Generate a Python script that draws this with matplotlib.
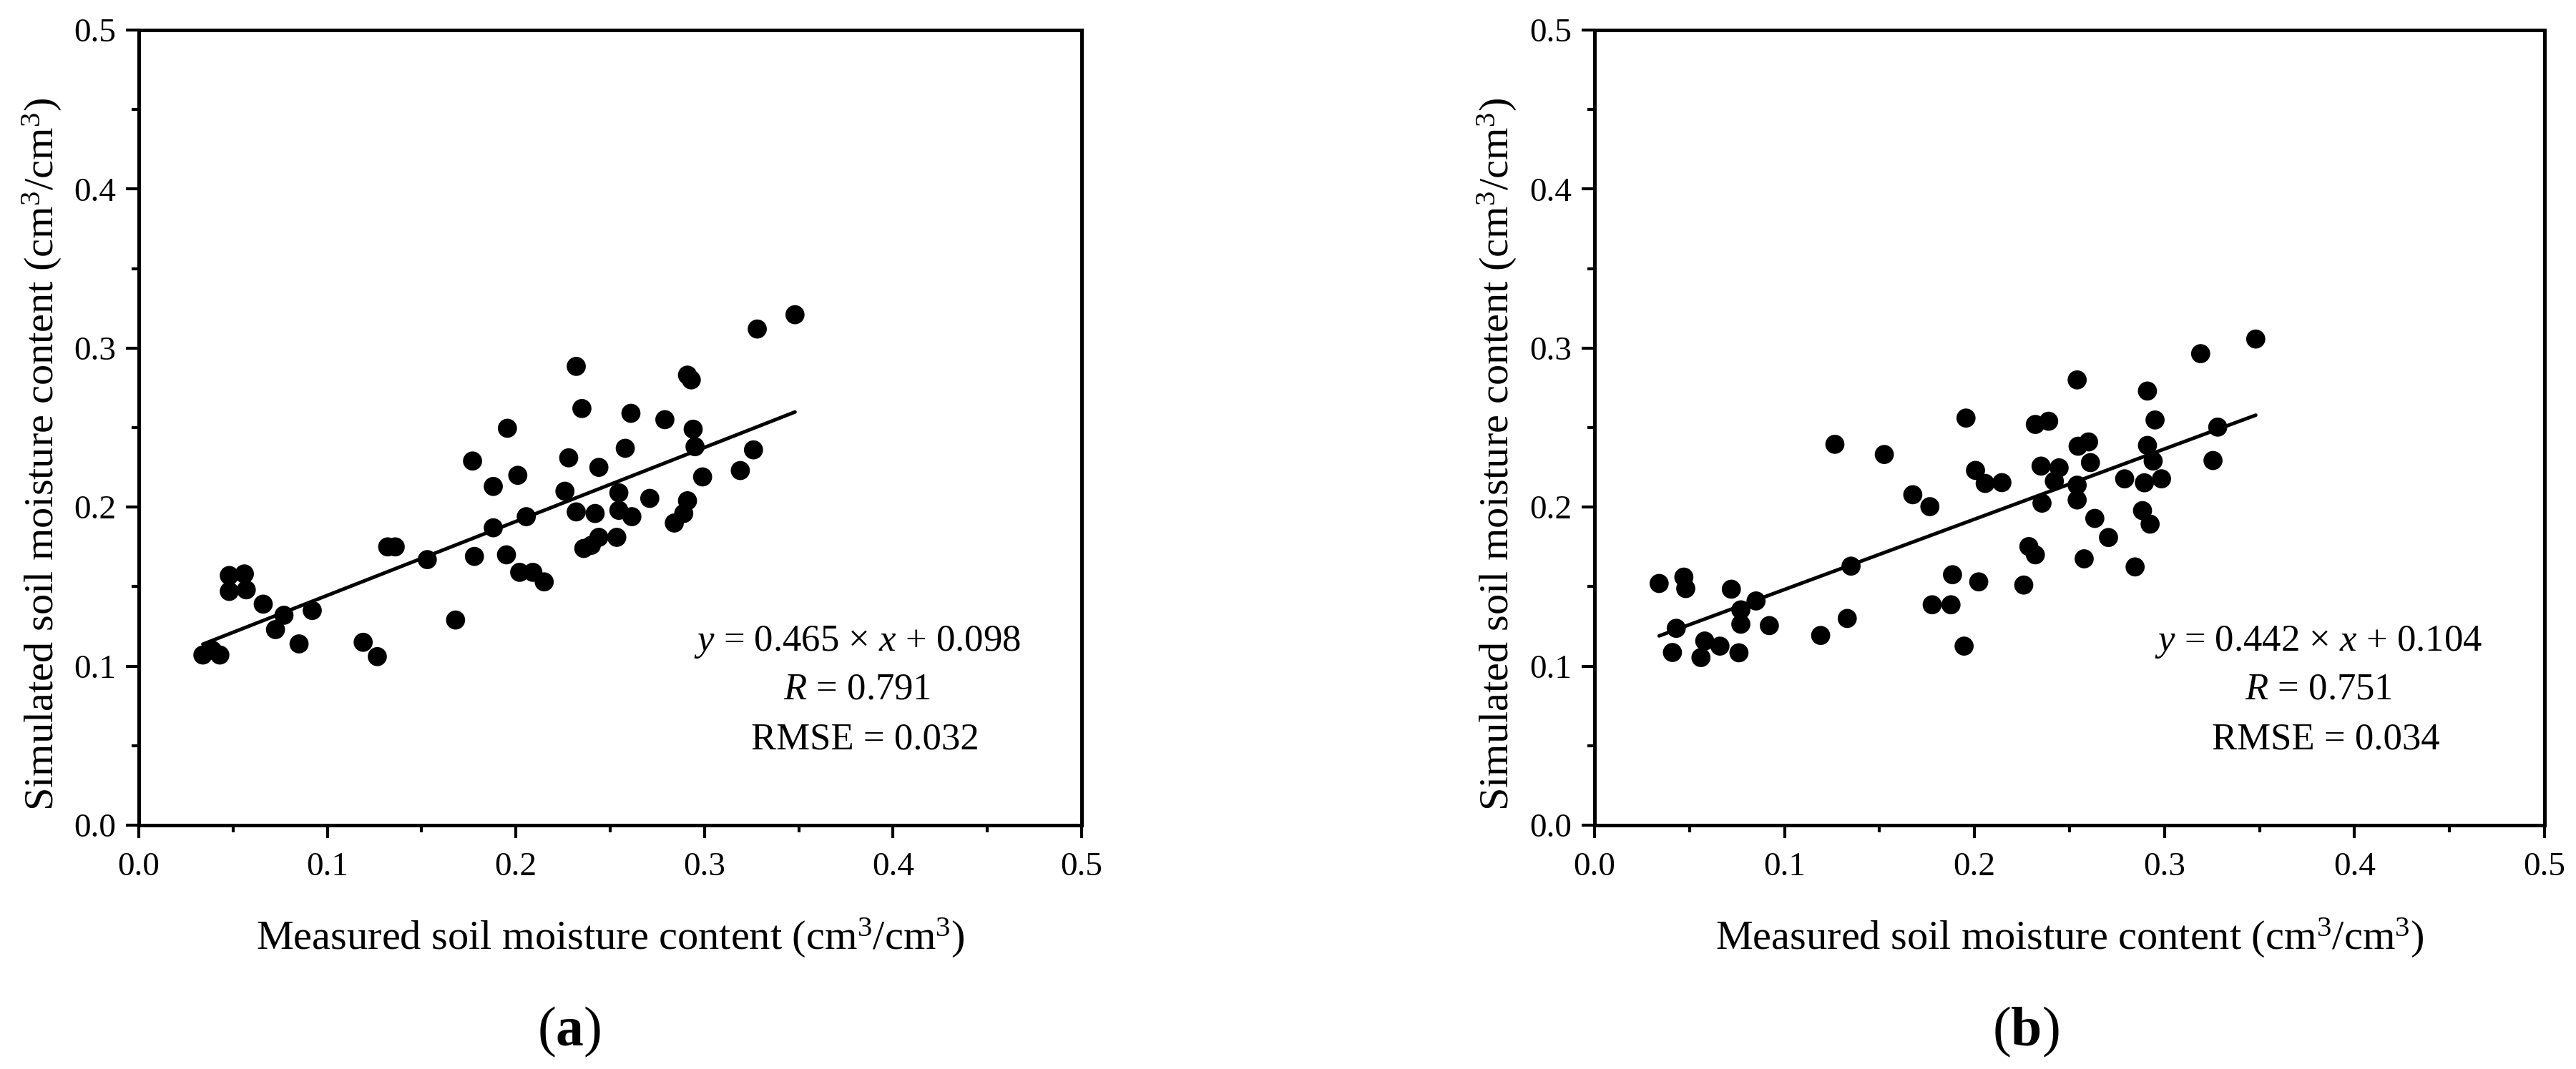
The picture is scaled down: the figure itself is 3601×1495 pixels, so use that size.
import matplotlib
matplotlib.use("Agg")
import matplotlib.pyplot as plt
import numpy as np
from matplotlib.ticker import MultipleLocator, FormatStrFormatter

plt.rcParams['font.family'] = ['Liberation Serif', 'DejaVu Serif']
plt.rcParams['mathtext.fontset'] = 'custom'
plt.rcParams['mathtext.rm'] = 'Liberation Serif'
plt.rcParams['mathtext.it'] = 'Liberation Serif:italic'
plt.rcParams['mathtext.bf'] = 'Liberation Serif:bold'

# ---------------- data ----------------
meas_a = [0.034, 0.039, 0.043, 0.048, 0.056, 0.048, 0.057, 0.066, 0.077, 0.0725,
          0.092, 0.085, 0.119, 0.1265, 0.132, 0.136, 0.153, 0.168, 0.177, 0.188,
          0.188, 0.178, 0.348, 0.328, 0.232, 0.291, 0.293, 0.235, 0.261, 0.279,
          0.294, 0.1955, 0.295, 0.258, 0.326, 0.228, 0.244, 0.201, 0.319, 0.299,
          0.226, 0.2546, 0.2546, 0.2615, 0.271, 0.291, 0.289, 0.284, 0.232, 0.242,
          0.2055, 0.195, 0.2535, 0.244, 0.236, 0.240, 0.202, 0.209, 0.215]
sim_a = [0.107, 0.110, 0.107, 0.157, 0.158, 0.147, 0.148, 0.139, 0.132, 0.123,
         0.135, 0.114, 0.115, 0.106, 0.175, 0.175, 0.167, 0.129, 0.229, 0.213,
         0.187, 0.169, 0.321, 0.312, 0.2885, 0.283, 0.280, 0.262, 0.259, 0.255,
         0.249, 0.2496, 0.238, 0.237, 0.236, 0.231, 0.225, 0.220, 0.223, 0.219,
         0.210, 0.209, 0.198, 0.194, 0.2055, 0.204, 0.196, 0.190, 0.197, 0.196,
         0.194, 0.170, 0.181, 0.181, 0.174, 0.176, 0.159, 0.159, 0.153]

meas_b = [0.1265, 0.1525, 0.1675, 0.1765, 0.135, 0.133, 0.119, 0.072, 0.085, 0.077,
          0.077, 0.092, 0.034, 0.047, 0.048, 0.043, 0.041, 0.058, 0.066, 0.056,
          0.076, 0.348, 0.319, 0.254, 0.291, 0.1955, 0.232, 0.239, 0.295, 0.328,
          0.260, 0.2545, 0.291, 0.294, 0.261, 0.3255, 0.2005, 0.2056, 0.2144, 0.235,
          0.2445, 0.242, 0.254, 0.279, 0.2894, 0.2984, 0.2355, 0.254, 0.2633, 0.2884,
          0.2924, 0.2705, 0.2286, 0.232, 0.2577, 0.2845, 0.1884, 0.2022, 0.2259, 0.1777,
          0.1876, 0.1945]
sim_b = [0.2395, 0.2331, 0.2078, 0.2003, 0.1629, 0.130, 0.1193, 0.1484, 0.141, 0.1354,
         0.1264, 0.1255, 0.152, 0.156, 0.1488, 0.1238, 0.1086, 0.1158, 0.1126, 0.1054,
         0.1084, 0.3057, 0.2965, 0.280, 0.273, 0.256, 0.252, 0.254, 0.2548, 0.2503,
         0.241, 0.2383, 0.2388, 0.229, 0.228, 0.2293, 0.2231, 0.2149, 0.2154, 0.2258,
         0.2247, 0.2163, 0.2138, 0.2178, 0.2153, 0.2178, 0.2025, 0.2045, 0.1929, 0.1978,
         0.1893, 0.1809, 0.1752, 0.170, 0.1675, 0.1624, 0.1575, 0.153, 0.151, 0.1386,
         0.1386, 0.1126]

fit_a = (0.465, 0.098)
fit_b = (0.442, 0.104)
stats_a = ("0.465", "0.098", "0.791", "0.032")
stats_b = ("0.442", "0.104", "0.751", "0.034")
panel_labels = ["a", "b"]
tick_vals = [0.0, 0.1, 0.2, 0.3, 0.4, 0.5]

xlabel = 'Measured soil moisture content (cm$^3$/cm$^3$)'
ylabel = 'Simulated soil moisture content (cm$^3$/cm$^3$)'

# ---------------- figure ----------------
fig = plt.figure(figsize=(36.01, 14.95), dpi=100)
ax_a = fig.add_axes([0.05387, 0.22809, 0.36601, 0.74381])
ax_b = fig.add_axes([0.6190, 0.22809, 0.36879, 0.74381])

LW = 3.6
TICK_FS = 34
LABEL_FS = 42
ANN_FS = 38


def style(ax):
    ax.set_xlim(0, 0.5)
    ax.set_ylim(0, 0.5)
    ax.set_xticks(tick_vals)
    ax.set_yticks(tick_vals)
    ax.xaxis.set_minor_locator(MultipleLocator(0.05))
    ax.yaxis.set_minor_locator(MultipleLocator(0.05))
    ax.xaxis.set_major_formatter(FormatStrFormatter('%.1f'))
    ax.yaxis.set_major_formatter(FormatStrFormatter('%.1f'))
    for s in ax.spines.values():
        s.set_linewidth(LW)
    ax.tick_params(which='major', direction='out', length=13, width=3.0,
                   labelsize=TICK_FS, top=False, right=False)
    ax.tick_params(axis='x', which='major', pad=14)
    ax.tick_params(axis='y', which='major', pad=10)
    ax.tick_params(which='minor', direction='out', length=7, width=3.0,
                   top=False, right=False)
    ax.set_xlabel(xlabel, fontsize=LABEL_FS)
    ax.set_ylabel(ylabel, fontsize=LABEL_FS)
    ax.xaxis.label.set_va('baseline')
    ax.yaxis.label.set_va('baseline')
    ax.xaxis.set_label_coords(0.5, -0.1565)
    ax.yaxis.set_label_coords(-0.0903, 0.4667)


for ax, mx, sy, fit, st, lab, lx in [
        (ax_a, meas_a, sim_a, fit_a, stats_a, panel_labels[0], 0.221),
        (ax_b, meas_b, sim_b, fit_b, stats_b, panel_labels[1], 0.7865)]:
    style(ax)
    ax.scatter(mx, sy, s=370, color='black', edgecolors='none', zorder=3)
    xs = np.array([min(mx), max(mx)])
    ax.plot(xs, fit[0] * xs + fit[1], color='black', lw=3.6, zorder=4,
            solid_capstyle='round')
    ax.text(0.381, 0.1097, f'$y$ = {st[0]} × $x$ + {st[1]}', fontsize=ANN_FS,
            ha='center', va='baseline')
    ax.text(0.381, 0.0792, f'$R$ = {st[2]}', fontsize=ANN_FS,
            ha='center', va='baseline')
    ax.text(0.385, 0.0481, f'RMSE = {st[3]}', fontsize=ANN_FS,
            ha='center', va='baseline')
    fig.text(lx, 0.0221, '(' + r'$\mathbf{' + lab + '}$' + ')', fontsize=56,
             ha='center', va='baseline')

fig.savefig('out.png', dpi=100)
